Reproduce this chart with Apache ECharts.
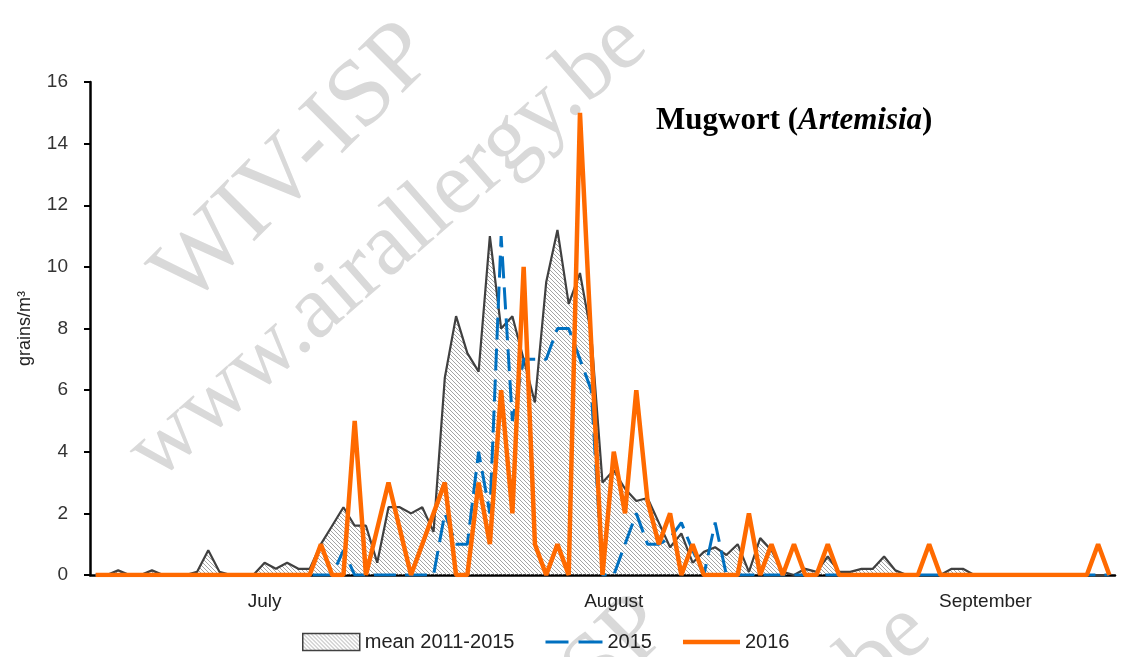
<!DOCTYPE html>
<html>
<head>
<meta charset="utf-8">
<script src="https://cdn.jsdelivr.net/npm/echarts@6/dist/echarts.min.js"></script>
<style>
  html, body { margin: 0; padding: 0; background: #fff; }
  #chart { width: 1122px; height: 657px; }
</style>
</head>
<body>
<div id="chart"></div>
<script>
// daily values, 1 July -> 29 September
const monthNames = ['July', 'August', 'September']
const monthDays = [31, 31, 29]
const monthLabelIndex = [15, 46, 79]
const monthTickIndex = [0, 31, 62]

const mean = [
  0, 0, 0.15, 0, 0, 0.15, 0, 0, 0, 0.1,
  0.8, 0.1, 0, 0, 0, 0.4, 0.2, 0.4, 0.2, 0.2,
  1.0, 1.6, 2.2, 1.6, 1.6, 0.4, 2.2, 2.2, 2.0, 2.2,
  1.4, 6.4, 8.4, 7.2, 6.6, 11.0, 8.0, 8.4, 7.0, 5.6,
  9.5, 11.2, 8.8, 9.8, 7.8, 3.0, 3.4, 2.8, 2.4, 2.5,
  1.7, 0.9, 1.35, 0.4, 0.75, 0.9, 0.65, 1.0, 0.1, 1.2,
  0.8, 0.1, 0, 0.2, 0.1, 0.6, 0.1, 0.1, 0.2, 0.2,
  0.6, 0.15, 0, 0, 0, 0, 0.2, 0.2, 0, 0,
  0, 0, 0, 0, 0, 0, 0, 0, 0, 0,
  0
]
const y2015 = [
  0, 0, 0, 0, 0, 0, 0, 0, 0, 0,
  0, 0, 0, 0, 0, 0, 0, 0, 0, 0,
  0, 0, 0.8, 0, 0, 0, 0, 0, 0, 0,
  0, 2, 1, 1, 4, 2, 11, 5, 7, 7,
  7, 8, 8, 7, 6, 0, 0, 1, 2, 1,
  1, 1.2, 1.7, 0.8, 0, 1.7, 0, 0, 0, 0,
  0, 0, 0, 0, 0, 0, 0, 0, 0, 0,
  0, 0, 0, 0, 0, 0, 0, 0, 0, 0,
  0, 0, 0, 0, 0, 0, 0, 0, 0, 0,
  0
]
const y2016 = [
  0, 0, 0, 0, 0, 0, 0, 0, 0, 0,
  0, 0, 0, 0, 0, 0, 0, 0, 0, 0,
  1, 0, 0, 5, 0, 1.5, 3, 1.5, 0, 1,
  2, 3, 0, 0, 3, 1, 6, 2, 10, 1,
  0, 1, 0, 15, 7.5, 0, 4, 2, 6, 2.4,
  1, 2, 0, 1, 0, 0, 0, 0, 2, 0,
  1, 0, 1, 0, 0, 1, 0, 0, 0, 0,
  0, 0, 0, 0, 1, 0, 0, 0, 0, 0,
  0, 0, 0, 0, 0, 0, 0, 0, 0, 1,
  0
]
const yTicks = { min: 0, max: 16, interval: 2 }

// category names: '1 July' ...
const days = []
monthNames.forEach((m, k) => {
  for (let d = 1; d <= monthDays[k]; d++) days.push(d + ' ' + m)
})

// hatch for the mean area
function hatch () {
  const c = document.createElement('canvas')
  c.width = 4
  c.height = 4
  const ctx = c.getContext('2d')
  ctx.strokeStyle = '#9a9a9a'
  ctx.lineWidth = 0.9
  ctx.beginPath()
  ctx.moveTo(-1, -1); ctx.lineTo(5, 5)
  ctx.moveTo(-1, 3); ctx.lineTo(1, 5)
  ctx.moveTo(3, -1); ctx.lineTo(5, 1)
  ctx.stroke()
  return { image: c, repeat: 'repeat' }
}
const hatchFill = hatch()

const chart = echarts.init(document.getElementById('chart'))
const font = 'Liberation Sans'
const wm = '#d9d9d9'

const option = {
  animation: false,
  title: {
    text: '{b|Mugwort (}{i|Artemisia}{b|)}',
    left: 651,
    top: 100,
    textStyle: {
      rich: {
        b: { fontFamily: 'Liberation Serif', fontWeight: 'bold', fontSize: 31, color: '#000' },
        i: { fontFamily: 'Liberation Serif', fontWeight: 'bold', fontStyle: 'italic', fontSize: 31, color: '#000' }
      }
    }
  },
  graphic: [
    // watermarks
    { type: 'text', x: 295, y: 165, rotation: Math.PI / 4, z: 0, silent: true,
      style: { text: 'WIV-ISP', fill: wm, font: '96px "Liberation Serif"', align: 'center', verticalAlign: 'middle' } },
    { type: 'text', x: 388, y: 248, rotation: 0.72, z: 0, silent: true,
      style: { text: 'www.airallergy.be', fill: wm, font: '90px "Liberation Serif"', align: 'center', verticalAlign: 'middle' } },
    { type: 'text', x: 530, y: 738, rotation: Math.PI / 4, z: 0, silent: true,
      style: { text: 'WIV-ISP', fill: wm, font: '96px "Liberation Serif"', align: 'center', verticalAlign: 'middle' } },
    { type: 'text', x: 672, y: 836, rotation: 0.72, z: 0, silent: true,
      style: { text: 'www.airallergy.be', fill: wm, font: '90px "Liberation Serif"', align: 'center', verticalAlign: 'middle' } }
  ],
  legend: {
    left: 297,
    top: 627,
    itemWidth: 57,
    itemHeight: 17,
    itemGap: 31,
    textStyle: { fontFamily: font, fontSize: 20, color: '#222' },
    data: [
      { name: 'mean 2011-2015', icon: 'rect', itemStyle: { color: hatchFill, borderColor: '#404040', borderWidth: 1.5 } },
      { name: '2015', icon: 'path://M0,0H23V3H0ZM33,0H57V3H33Z', itemStyle: { color: '#0070c0' } },
      { name: '2016', icon: 'path://M0,0H57V4.5H0Z', itemStyle: { color: '#ff6a00' } }
    ]
  },
  grid: { left: 90, right: 7, top: 82, bottom: 82 },
  xAxis: {
    type: 'category',
    data: days,
    boundaryGap: true,
    axisLine: { lineStyle: { color: '#000', width: 2.5 } },
    axisTick: {
      length: 7,
      lineStyle: { color: '#000', width: 2.5 },
      interval: (i) => monthTickIndex.indexOf(i) >= 0
    },
    axisLabel: {
      interval: (i) => monthLabelIndex.indexOf(i) >= 0,
      formatter: (v, i) => monthNames[monthLabelIndex.indexOf(i)],
      fontFamily: font,
      fontSize: 19,
      color: '#222',
      margin: 17
    },
    splitLine: { show: false }
  },
  yAxis: {
    type: 'value',
    min: yTicks.min,
    max: yTicks.max,
    interval: yTicks.interval,
    name: 'grains/m³',
    nameLocation: 'middle',
    nameGap: 56,
    nameTextStyle: { fontFamily: font, fontSize: 18, color: '#222' },
    axisLine: { show: true, lineStyle: { color: '#000', width: 2.5 } },
    axisTick: { show: true, length: 6, lineStyle: { color: '#000', width: 2 } },
    axisLabel: { fontFamily: font, fontSize: 19, color: '#333', margin: 22 },
    splitLine: { show: false }
  },
  series: [
    {
      name: 'mean 2011-2015',
      type: 'line',
      data: mean,
      symbol: 'none',
      z: 2,
      lineStyle: { color: '#404040', width: 2.2 },
      itemStyle: { color: '#404040' },
      areaStyle: { color: hatchFill, opacity: 1 }
    },
    {
      name: '2015',
      type: 'line',
      data: y2015,
      symbol: 'none',
      z: 3,
      lineStyle: { color: '#0070c0', width: 3, type: [22, 9] },
      itemStyle: { color: '#0070c0' }
    },
    {
      name: '2016',
      type: 'line',
      data: y2016,
      symbol: 'none',
      z: 4,
      lineStyle: { color: '#ff6a00', width: 4.5 },
      itemStyle: { color: '#ff6a00' }
    }
  ]
}
chart.setOption(option)
</script>
</body>
</html>
